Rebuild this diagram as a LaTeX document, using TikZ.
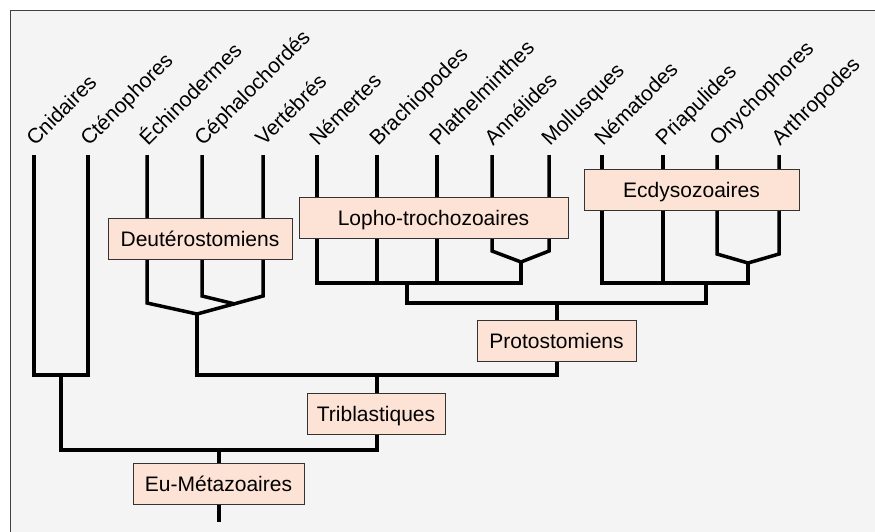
\documentclass[tikz,border=0pt]{standalone}
\usepackage{fontspec}
\setmainfont{Liberation Sans}
\usetikzlibrary{positioning}
\definecolor{panel}{HTML}{F4F4F4}
\definecolor{cladefill}{HTML}{FDE2D6}

\begin{document}
\begin{tikzpicture}[x=1pt,y=-1pt,
  branch/.style={line width=3.5pt,line join=miter},
  clade/.style={draw=black!80,fill=cladefill,line width=0.9pt,inner sep=0pt,
    minimum height=41pt,text height=15pt,text depth=0pt,
    font=\fontsize{21}{25}\selectfont},
  taxon/.style={rotate=45,anchor=base west,inner sep=0pt,
    font=\fontsize{21}{25}\selectfont}]
\useasboundingbox (0,0) rectangle (875,531);
% Frame
\draw[fill=panel,draw=black!75,line width=1pt] (10,10) rectangle (885,545);

% Leaves
\foreach \x/\nm/\txt in {34/cni/Cnidaires,88/cte/Cténophores,147/ech/Échinodermes,
    202/cep/Céphalochordés,263/ver/Vertébrés,317/nem/Némertes,377/bra/Brachiopodes,
    437/pla/Plathelminthes,492/ann/Annélides,549/mol/Mollusques,602/nma/Nématodes,
    663/pri/Priapulides,717/ony/Onychophores,779/art/Arthropodes}{
  \coordinate (\nm) at (\x,155);
  \node[taxon] (\nm L) at (\x+1,147) {\txt};
}

% Junctions
\coordinate (cc) at (61,375);
\coordinate (cv) at (235,304);
\coordinate (deu) at (197,314);
\coordinate (am) at (521,262);
\coordinate (lop) at (407,283);
\coordinate (oa) at (748,263);
\coordinate (ecd) at (706,283);
\coordinate (pro) at (557,303);
\coordinate (tri) at (377,375);
\coordinate (eum) at (219,450);
\coordinate (root) at (219,522);

% Connections
\draw[branch] (cni) |- (cc) -| (cte);
\draw[branch] (ech) -- ++(0,148) -- (deu);
\draw[branch] (cep) -- ++(0,141) -- (cv);
\draw[branch] (ver) -- ++(0,141) -- (deu);
\draw[branch] (nem) |- (am |- lop) -- (am);
\draw[branch] (bra) -- (bra |- lop);
\draw[branch] (pla) -- (pla |- lop);
\draw[branch] (ann) -- ++(0,96) -- (am);
\draw[branch] (mol) -- ++(0,96) -- (am);
\draw[branch] (nma) |- (oa |- ecd) -- (oa);
\draw[branch] (pri) -- (pri |- ecd);
\draw[branch] (ony) -- ++(0,99) -- (oa);
\draw[branch] (art) -- ++(0,99) -- (oa);
\draw[branch] (lop) |- (pro) -| (ecd);
\draw[branch] (deu) |- (pro |- tri) -- (pro);
\draw[branch] (cc) |- (eum) -| (tri);
\draw[branch] (eum) -- (root);

% Clades
\node[clade,minimum width=184pt] (deuB) at (200,239) {Deutérostomiens};
\node[clade,minimum width=269pt] (lopB) at (433.5,217.5) {Lopho-trochozoaires};
\node[clade,minimum width=215pt] (ecdB) at (691.5,190) {Ecdysozoaires};
\node[clade,minimum width=159pt] (proB) at (556.5,341) {Protostomiens};
\node[clade,minimum width=138pt] (triB) at (376,414) {Triblastiques};
\node[clade,minimum width=171pt] (eumB) at (218.5,484) {Eu-Métazoaires};
\end{tikzpicture}
\end{document}
